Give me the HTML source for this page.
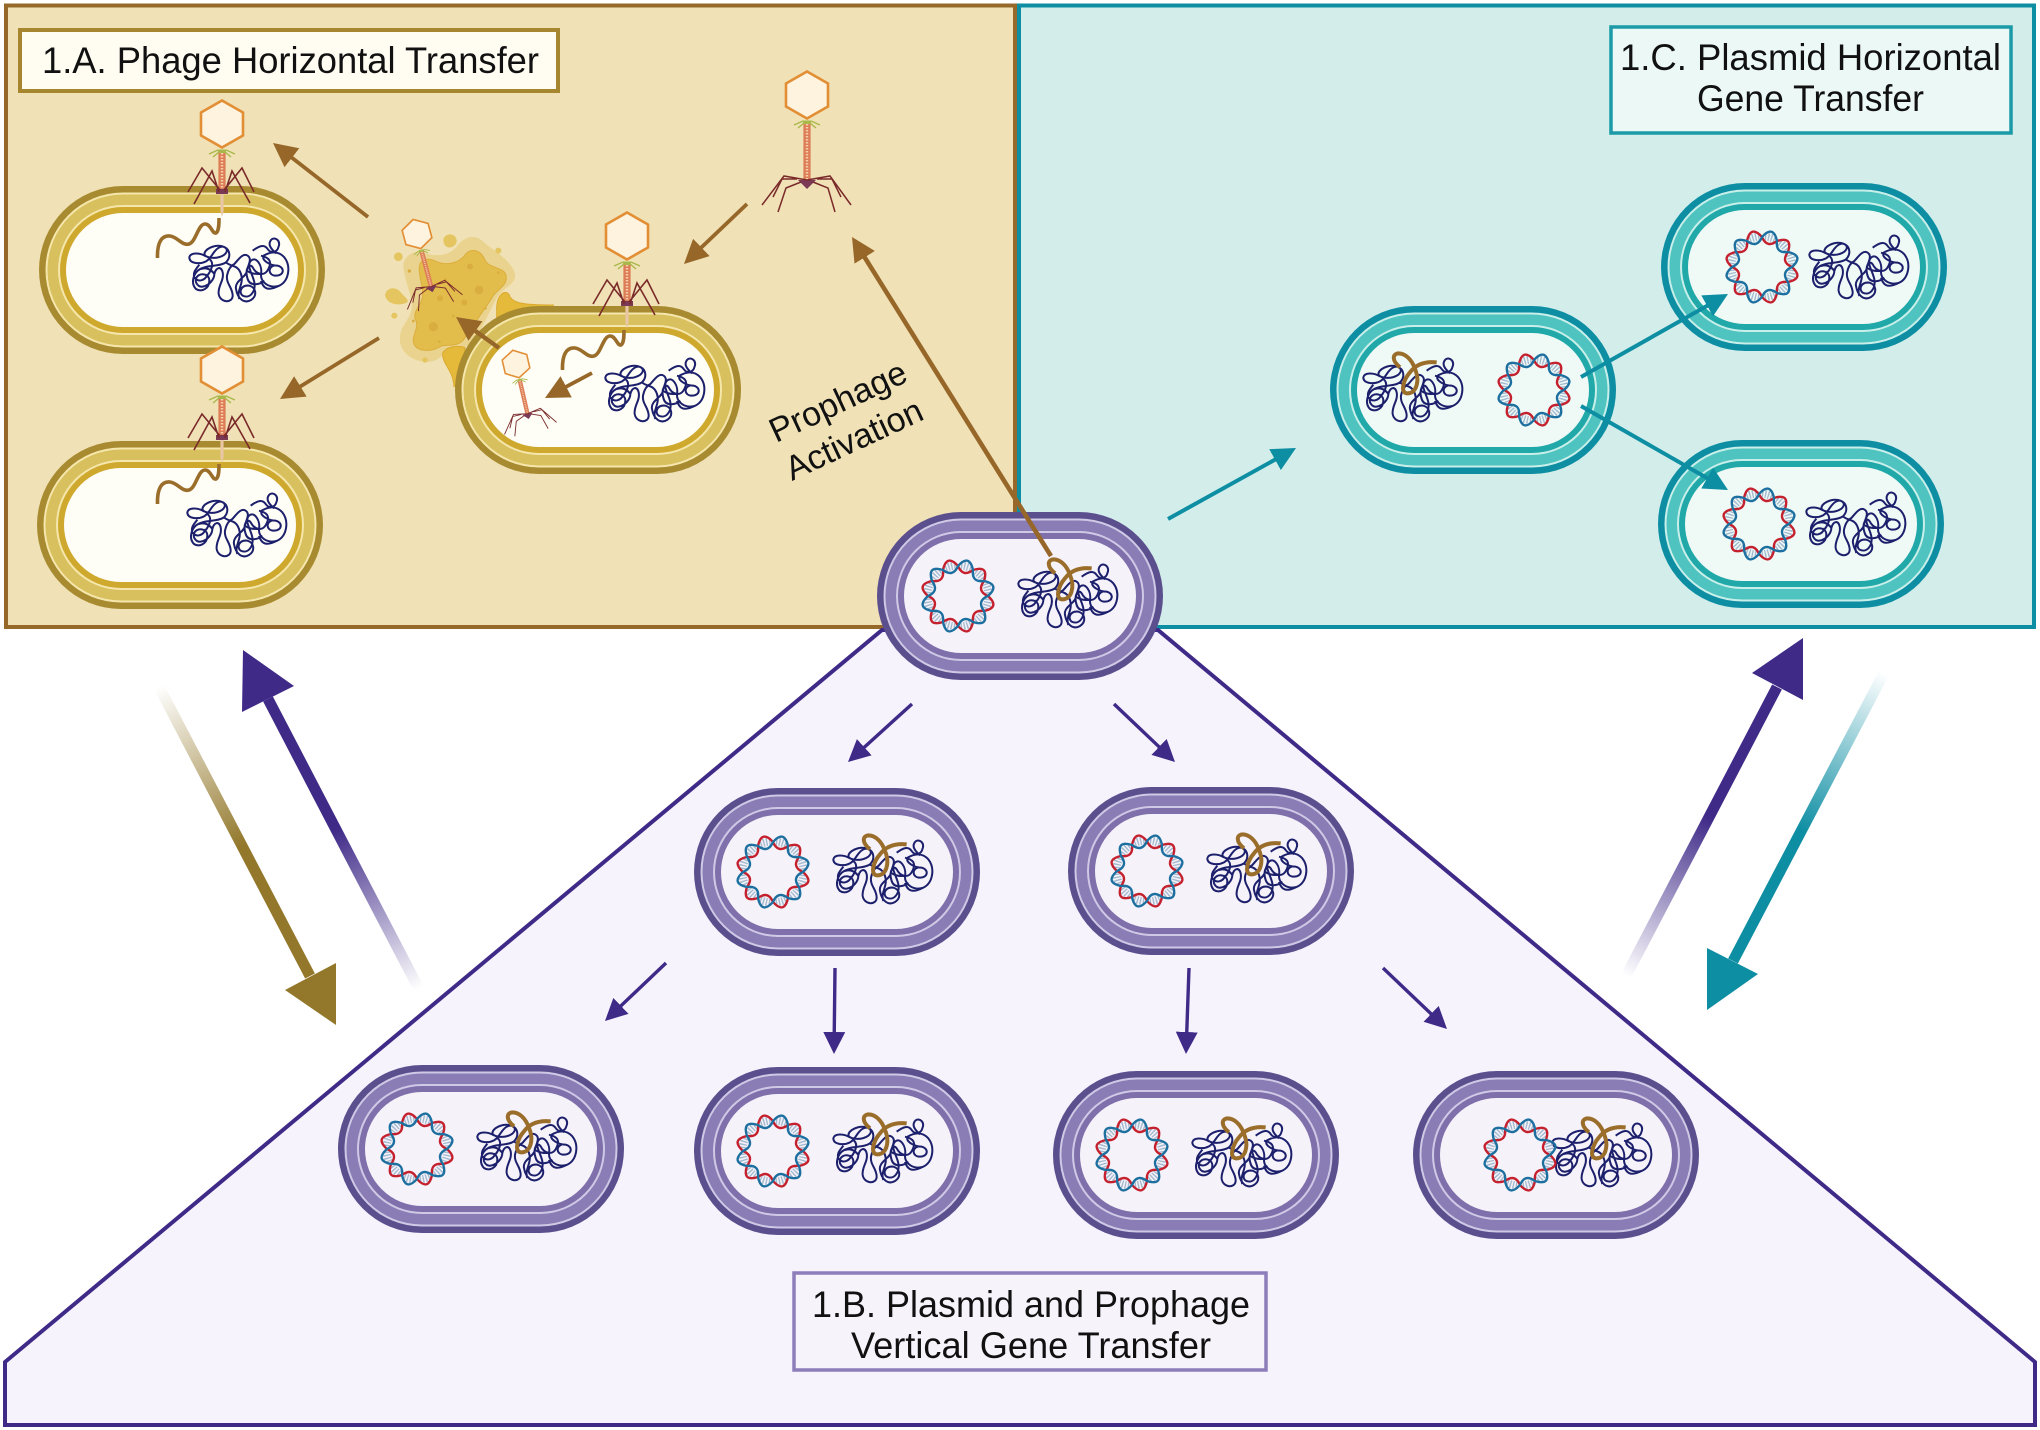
<!DOCTYPE html>
<html><head><meta charset="utf-8"><title>Gene Transfer Diagram</title>
<style>
html,body{margin:0;padding:0;background:#fff}
svg{display:block}
text{font-family:"Liberation Sans",sans-serif;fill:#111}
</style></head>
<body>
<svg xmlns="http://www.w3.org/2000/svg" width="2040" height="1430" viewBox="0 0 2040 1430">
<defs>
<g id="cellY">
<rect x="-143" y="-84" width="286" height="168" rx="84" fill="#a88b30"/>
<rect x="-136.5" y="-77.5" width="273" height="155" rx="77.5" fill="#f5e6ab"/>
<rect x="-134.5" y="-75.5" width="269" height="151" rx="75.5" fill="#d8c05e"/>
<rect x="-124" y="-65" width="248" height="130" rx="65" fill="#f5e6ab"/>
<rect x="-122" y="-63" width="244" height="126" rx="63" fill="#cfa92e"/>
<rect x="-116" y="-57" width="232" height="114" rx="57" fill="#fefdf6"/>
</g>
<g id="cellT">
<rect x="-143" y="-84" width="286" height="168" rx="84" fill="#0e8ea3"/>
<rect x="-136.5" y="-77.5" width="273" height="155" rx="77.5" fill="#c8efea"/>
<rect x="-134.5" y="-75.5" width="269" height="151" rx="75.5" fill="#4fc3bf"/>
<rect x="-124" y="-65" width="248" height="130" rx="65" fill="#c8efea"/>
<rect x="-122" y="-63" width="244" height="126" rx="63" fill="#21a8a8"/>
<rect x="-116" y="-57" width="232" height="114" rx="57" fill="#eff9f6"/>
</g>
<g id="cellP">
<rect x="-143" y="-84" width="286" height="168" rx="84" fill="#5c4f8e"/>
<rect x="-136.5" y="-77.5" width="273" height="155" rx="77.5" fill="#cfc9e6"/>
<rect x="-134.5" y="-75.5" width="269" height="151" rx="75.5" fill="#8a7cb5"/>
<rect x="-124" y="-65" width="248" height="130" rx="65" fill="#cfc9e6"/>
<rect x="-122" y="-63" width="244" height="126" rx="63" fill="#7f6fab"/>
<rect x="-116" y="-57" width="232" height="114" rx="57" fill="#f5f2f9"/>
</g>
<path id="strand" fill="none" stroke-width="2.4" d="M30,0 Q42.5,11.4 26,15 Q13.4,13.4 15,26 Q11.4,42.5 0,30 Q-4.9,18.4 -15,26 Q-31.1,31.1 -26,15 Q-18.4,4.9 -30,0 Q-42.5,-11.4 -26,-15 Q-13.4,-13.4 -15,-26 Q-11.4,-42.5 0,-30 Q4.9,-18.4 15,-26 Q31.1,-31.1 26,-15 Q18.4,-4.9 30,0 Z"/>
<g id="plasmid">
<circle r="30.56" fill="none" stroke="#a3b9cf" stroke-width="8" stroke-dasharray="1.4 1.6 1.4 1.6 1.4 1.6 1.4 5.6" stroke-dashoffset="-2.8"/>
<use href="#strand" stroke="#c4202e"/>
<use href="#strand" stroke="#1c6f9e" transform="scale(-1,1)"/>
</g>
<g id="genome" transform="scale(.33333) translate(-24,-138)">
<path fill="none" stroke="#1c1f6b" stroke-width="6" d="M75,97 C55,85 28,85 25,100 C25,118 55,122 75,112 C95,100 95,80 115,70 C135,62 145,80 130,92 C112,105 80,105 70,92 C70,75 100,62 120,66 C150,72 150,100 135,115 C115,130 75,120 50,140 C35,155 30,180 45,195 C60,205 85,195 85,170 C85,150 60,145 48,158 C38,172 50,190 65,188 C85,185 100,165 100,150 C105,130 120,125 125,145 C130,170 110,185 113,210 C118,238 155,238 155,215 C155,190 135,180 138,155 C142,135 150,125 160,120 C170,110 185,85 200,95 C215,105 200,125 198,140 C196,160 160,170 165,195 C170,225 190,240 210,228 C230,215 225,190 205,185 C180,182 172,205 185,215 C205,225 225,205 220,175 C215,150 195,125 210,110 C225,95 245,125 240,150 C238,175 265,195 295,185 C325,170 330,125 310,100 C290,78 265,85 248,95 C240,110 270,125 290,125 C312,130 310,155 285,155 C262,155 260,130 278,125 M285,88 C270,75 258,60 272,46 C285,38 300,52 292,70 C288,85 270,90 260,75 C250,60 235,65 215,80 M100,150 C90,135 75,130 60,135 M198,140 C210,150 225,150 240,150 M135,115 C150,130 170,120 180,150 C190,180 165,200 175,225 M240,95 C262,100 275,110 262,135 C250,160 225,150 215,130 C205,115 190,135 200,165 C208,190 240,180 250,170 M70,165 C85,150 105,120 85,105 M295,185 C275,195 250,205 240,170 M55,122 C45,135 35,145 40,160 C50,175 72,172 80,150"/>
</g>
<g id="prophage" transform="scale(.33333) translate(-24,-138)">
<path fill="none" stroke="#9a6e2a" stroke-width="12" d="M245,55 C215,52 185,58 165,85 C145,108 135,145 155,148 C185,150 195,110 180,75 C170,45 150,28 130,28 C112,30 110,50 135,70"/>
</g>
<g id="head">
<polygon points="0,-23.5 21,-11.5 21,11.5 0,23.5 -21,11.5 -21,-11.5" fill="#fef3df" stroke="#e28e35" stroke-width="2.6"/>
<path d="M-4,25.5 H4 V29 H-4 Z" fill="#a9b84a"/>
<path d="M-4,26 L-13,30 M4,26 L13,30 M-3,28 L-9,33 M3,28 L9,33" fill="none" stroke="#a9b84a" stroke-width="1.4"/>
</g>
<g id="phageFree">
<use href="#head"/>
<rect x="-3.6" y="29" width="7.2" height="56" fill="#dd7d58"/>
<path d="M0,29 V85" stroke="#f7cfa8" stroke-width="2.4" stroke-dasharray="1.5 1.5"/>
<path d="M-9,85 H9 L0,94 Z" fill="#7a3a55"/>
<path d="M0,85 L-23,81 L-45,110 M0,85 L23,81 L44,110 M-6,87 L-21,93 L-29,117 M6,87 L21,93 L28,117 M-10,84 L-25,84 L-34,102 M10,84 L25,84 L34,102" fill="none" stroke="#7a2a2a" stroke-width="1.5"/>
</g>
<g id="phageAtt">
<use href="#head"/>
<rect x="-3.6" y="29" width="7.2" height="38" fill="#dd7d58"/>
<path d="M0,29 V67" stroke="#f7cfa8" stroke-width="2.4" stroke-dasharray="1.5 1.5"/>
<rect x="-6" y="65" width="12" height="5" fill="#7a3a55"/>
<path d="M-1.6,70 H1.6 V87 L0,93 L-1.6,87 Z" fill="#e9c6a4"/>
<path d="M-2,66 L-20,44 L-34,68 M2,66 L20,44 L32,68 M-3,68 L-10,47 L-28,80 M3,68 L10,47 L28,79" fill="none" stroke="#7a2a2a" stroke-width="1.6"/>
</g>
<path id="wave" fill="none" stroke="#9a6e2a" stroke-width="3.6" d="M-64.5,134 C-65,118 -60,111 -52,112 C-44,113 -40,122 -33,120 C-26,118 -24,100 -17,100 C-11,100 -10,110 -6,109 C-3,107 -3,100 -3,94"/>
<marker id="mB" markerUnits="userSpaceOnUse" markerWidth="24" markerHeight="24" viewBox="0 0 24 24" refX="24" refY="12" orient="auto"><path d="M0,0 L24,12 L0,24 Z" fill="#966729"/></marker>
<marker id="mT" markerUnits="userSpaceOnUse" markerWidth="24" markerHeight="24" viewBox="0 0 24 24" refX="24" refY="12" orient="auto"><path d="M0,0 L24,12 L0,24 Z" fill="#0e8ea3"/></marker>
<marker id="mP" markerUnits="userSpaceOnUse" markerWidth="22" markerHeight="22" viewBox="0 0 24 24" refX="24" refY="12" orient="auto"><path d="M0,0 L24,12 L0,24 Z" fill="#3f2a88"/></marker>
<linearGradient id="g1" gradientUnits="userSpaceOnUse" x1="419" y1="989" x2="268" y2="699"><stop offset="0" stop-color="#3f2a88" stop-opacity="0"/><stop offset=".55" stop-color="#3f2a88"/></linearGradient>
<linearGradient id="g2" gradientUnits="userSpaceOnUse" x1="159" y1="687" x2="310" y2="976"><stop offset="0" stop-color="#93782b" stop-opacity="0"/><stop offset=".55" stop-color="#93782b"/></linearGradient>
<linearGradient id="g3" gradientUnits="userSpaceOnUse" x1="1626" y1="976" x2="1777" y2="687"><stop offset="0" stop-color="#3f2a88" stop-opacity="0"/><stop offset=".55" stop-color="#3f2a88"/></linearGradient>
<linearGradient id="g4" gradientUnits="userSpaceOnUse" x1="1884" y1="673" x2="1733" y2="961"><stop offset="0" stop-color="#0e8ea3" stop-opacity="0"/><stop offset=".55" stop-color="#0e8ea3"/></linearGradient>
</defs>

<rect width="2040" height="1430" fill="#fff"/>
<!-- panels -->
<rect x="6" y="5.5" width="1009" height="621.5" fill="#f0e2b6" stroke="#96692b" stroke-width="4"/>
<rect x="1019" y="5.5" width="1015" height="621.5" fill="#d3eeea" stroke="#0e8ea3" stroke-width="4"/>
<polygon points="882,630 5,1362 5,1425 2035,1425 2035,1362 1158,630" fill="#f6f3fd" stroke="#3f2a88" stroke-width="4" stroke-linejoin="miter"/>

<!-- label boxes -->
<rect x="20" y="30" width="538" height="61" fill="#fffdf2" stroke="#a6872f" stroke-width="4"/>
<text x="42" y="73" font-size="37" textLength="497" lengthAdjust="spacingAndGlyphs">1.A. Phage Horizontal Transfer</text>
<rect x="1611" y="27" width="400" height="106" fill="#ecf8f6" stroke="#1b9aa8" stroke-width="3.5"/>
<text x="1620" y="70" font-size="37" textLength="381" lengthAdjust="spacingAndGlyphs">1.C. Plasmid Horizontal</text>
<text x="1697" y="111" font-size="37" textLength="227" lengthAdjust="spacingAndGlyphs">Gene Transfer</text>
<rect x="794" y="1273" width="472" height="97" fill="#f6f3fb" stroke="#8d7dbb" stroke-width="3.5"/>
<text x="812" y="1317" font-size="37" textLength="438" lengthAdjust="spacingAndGlyphs">1.B. Plasmid and Prophage</text>
<text x="851" y="1358" font-size="37" textLength="360" lengthAdjust="spacingAndGlyphs">Vertical Gene Transfer</text>

<!-- lysis splat -->
<g transform="translate(380,210) scale(.33333)">
<path d="M70,165 C72,140 100,118 130,128 C165,140 205,140 230,110 C250,80 285,70 310,95 C335,120 390,145 405,190 C410,225 370,230 350,265 L280,400 C240,420 220,410 200,425 C180,445 160,460 130,455 C90,450 55,420 60,380 C62,345 90,330 95,295 C100,260 72,215 70,165 Z" fill="#e9d38e"/>
<path d="M350,290 C352,255 375,235 388,255 C395,280 430,285 520,285 L520,320 L350,340 Z" fill="#e5ba3a" stroke="#dba92e" stroke-width="3"/>
<path d="M188,430 C195,412 225,405 255,412 L250,520 L222,530 C220,480 185,460 188,430 Z" fill="#e5ba3a" stroke="#dba92e" stroke-width="3"/>
<path d="M118,170 C120,150 140,140 170,155 C205,170 240,155 255,135 C270,115 300,115 315,150 C325,175 370,170 378,195 C385,230 345,240 335,265 L250,390 C225,415 200,400 180,410 C150,428 105,425 100,395 C98,370 120,350 105,325 C100,295 130,285 128,250 C128,225 116,200 118,170 Z" fill="#e3bd4c" stroke="#dcae3a" stroke-width="3"/>
<g fill="#e4c560">
<path d="M190,90 C192,70 225,65 230,90 C232,105 215,115 205,112 C195,110 190,100 190,90 Z"/>
<circle cx="55" cy="140" r="13"/><circle cx="355" cy="122" r="9"/>
<path d="M15,255 C20,230 50,228 65,250 C75,262 90,270 80,278 C60,288 20,285 15,255 Z"/>
<circle cx="43" cy="317" r="9"/><circle cx="135" cy="450" r="8"/>
</g>
<g fill="#d9ad3f">
<circle cx="270" cy="170" r="9"/><circle cx="297" cy="240" r="13"/><circle cx="180" cy="265" r="9"/><circle cx="253" cy="278" r="9"/><circle cx="160" cy="350" r="14"/><circle cx="88" cy="183" r="5"/><circle cx="355" cy="188" r="4"/><circle cx="316" cy="295" r="4"/><circle cx="100" cy="333" r="4"/><circle cx="178" cy="395" r="4"/><circle cx="220" cy="318" r="4"/><circle cx="197" cy="208" r="4"/>
</g>
</g>

<!-- yellow cells -->
<g transform="translate(182,270)"><use href="#cellY"/><use href="#genome" x="7"/></g>
<g transform="translate(180,525)"><use href="#cellY"/><use href="#genome" x="7"/></g>
<g transform="translate(598,390)"><use href="#cellY"/><use href="#genome" x="7"/></g>
<g transform="translate(222,124)"><use href="#wave"/><use href="#phageAtt"/></g>
<g transform="translate(222,370)"><use href="#wave"/><use href="#phageAtt"/></g>
<g transform="translate(627,236)"><use href="#wave"/><use href="#phageAtt"/></g>
<use href="#phageFree" transform="translate(807,95)"/>
<g transform="translate(417,234) rotate(-15) scale(.64)"><use href="#phageFree"/></g>
<g transform="translate(516,364) rotate(-13) scale(.6)"><use href="#phageFree"/></g>

<!-- teal cells -->
<g transform="translate(1473,390)"><use href="#cellT"/><use href="#genome" x="-110"/><use href="#prophage" x="-110"/><use href="#plasmid" x="61"/></g>
<g transform="translate(1804,267)"><use href="#cellT"/><use href="#genome" x="5"/><use href="#plasmid" x="-42"/></g>
<g transform="translate(1801,524)"><use href="#cellT"/><use href="#genome" x="5"/><use href="#plasmid" x="-42"/></g>

<!-- purple cells -->
<g transform="translate(1020,596)"><use href="#cellP"/><use href="#genome" x="-2"/><use href="#prophage" x="-2"/><use href="#plasmid" x="-62"/></g>
<g transform="translate(837,872)"><use href="#cellP"/><use href="#genome" x="-4"/><use href="#prophage" x="-4"/><use href="#plasmid" x="-64"/></g>
<g transform="translate(1211,871)"><use href="#cellP"/><use href="#genome" x="-4"/><use href="#prophage" x="-4"/><use href="#plasmid" x="-64"/></g>
<g transform="translate(481,1149)"><use href="#cellP"/><use href="#genome" x="-4"/><use href="#prophage" x="-4"/><use href="#plasmid" x="-64"/></g>
<g transform="translate(837,1151)"><use href="#cellP"/><use href="#genome" x="-4"/><use href="#prophage" x="-4"/><use href="#plasmid" x="-64"/></g>
<g transform="translate(1196,1155)"><use href="#cellP"/><use href="#genome" x="-4"/><use href="#prophage" x="-4"/><use href="#plasmid" x="-64"/></g>
<g transform="translate(1556,1155)"><use href="#cellP"/><use href="#genome" x="-4"/><use href="#prophage" x="-4"/><use href="#plasmid" x="-36"/></g>

<!-- brown arrows -->
<g fill="none" stroke="#966729" stroke-width="3.8">
<path pathLength="1" stroke-dasharray=".9 1" marker-end="url(#mB)" d="M368,217 L273,143"/>
<path pathLength="1" stroke-dasharray=".9 1" marker-end="url(#mB)" d="M379,338 L280,399"/>
<path pathLength="1" stroke-dasharray=".9 1" marker-end="url(#mB)" d="M747,204 L684,264"/>
<path pathLength="1" stroke-dasharray=".85 1" stroke-width="4.4" marker-end="url(#mB)" d="M499,348 L456,317"/>
<path pathLength="1" stroke-dasharray=".85 1" marker-end="url(#mB)" d="M592,373 L545,398"/>
<path pathLength="1" stroke-dasharray=".96 1" stroke-width="4.6" marker-end="url(#mB)" d="M1051,556 L852,237"/>
</g>
<!-- teal arrows -->
<g fill="none" stroke="#0e8ea3" stroke-width="4">
<path pathLength="1" stroke-dasharray=".92 1" marker-end="url(#mT)" d="M1168,519 L1296,448"/>
<path pathLength="1" stroke-dasharray=".94 1" marker-end="url(#mT)" d="M1581,377 L1728,294"/>
<path pathLength="1" stroke-dasharray=".94 1" marker-end="url(#mT)" d="M1581,406 L1728,490"/>
</g>
<!-- purple arrows -->
<g fill="none" stroke="#3f2a88" stroke-width="3.4">
<path pathLength="1" stroke-dasharray=".9 1" marker-end="url(#mP)" d="M912,704 L848,762"/>
<path pathLength="1" stroke-dasharray=".9 1" marker-end="url(#mP)" d="M1114,704 L1175,762"/>
<path pathLength="1" stroke-dasharray=".9 1" marker-end="url(#mP)" d="M666,963 L605,1021"/>
<path pathLength="1" stroke-dasharray=".9 1" marker-end="url(#mP)" d="M835,968 L834,1054"/>
<path pathLength="1" stroke-dasharray=".9 1" marker-end="url(#mP)" d="M1189,968 L1186,1054"/>
<path pathLength="1" stroke-dasharray=".9 1" marker-end="url(#mP)" d="M1383,968 L1447,1029"/>
</g>

<!-- big arrows -->
<line x1="419" y1="989" x2="268" y2="699" stroke="url(#g1)" stroke-width="11"/>
<polygon points="243,650 294,686 242,712" fill="#3f2a88"/>
<line x1="159" y1="687" x2="310" y2="976" stroke="url(#g2)" stroke-width="11"/>
<polygon points="336,1025 336,963 285,990" fill="#93782b"/>
<line x1="1626" y1="976" x2="1777" y2="687" stroke="url(#g3)" stroke-width="11"/>
<polygon points="1803,638 1803,700 1752,673" fill="#3f2a88"/>
<line x1="1884" y1="673" x2="1733" y2="961" stroke="url(#g4)" stroke-width="11"/>
<polygon points="1707,1010 1758,974 1707,948" fill="#0e8ea3"/>

<!-- rotated label -->
<text transform="translate(776,443) rotate(-25)" font-size="34">Prophage</text>
<text transform="translate(792,481) rotate(-25)" font-size="34">Activation</text>
</svg>
</body></html>
